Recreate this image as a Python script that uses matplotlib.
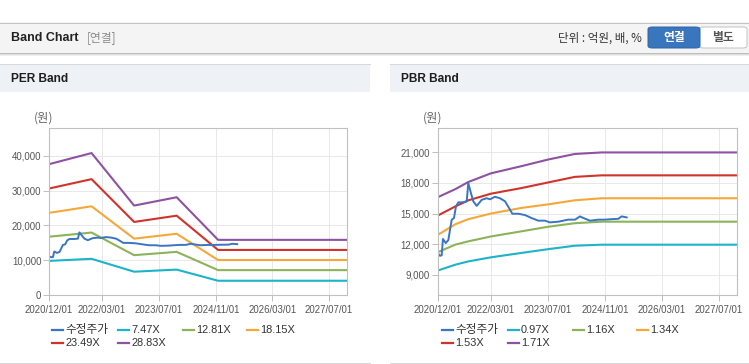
import matplotlib
matplotlib.use('Agg')
import matplotlib.pyplot as plt
import matplotlib.dates as mdates
import numpy as np
from matplotlib.patches import Rectangle, FancyBboxPatch
from matplotlib.lines import Line2D

W, H = 749, 364
plt.rcParams['font.family'] = ['Liberation Sans', 'Noto Sans CJK KR']

# ---------------- data ----------------
x_ticks = ['2020-12-01', '2022-03-01', '2023-07-01', '2024-11-01', '2026-03-01', '2027-07-01']
x_tick_labels = ['2020/12/01', '2022/03/01', '2023/07/01', '2024/11/01', '2026/03/01', '2027/07/01']
x_range = ['2020-12-01', '2027-12-01']

price_dates = ['2020-12-01', '2020-12-21', '2021-01-04', '2021-01-15', '2021-02-08', '2021-03-02',
               '2021-03-16', '2021-03-31', '2021-04-19', '2021-05-06', '2021-05-26', '2021-07-08',
               '2021-08-06', '2021-08-19', '2021-09-11', '2021-10-01', '2021-10-30', '2021-12-12',
               '2022-01-23', '2022-02-21', '2022-04-04', '2022-05-17', '2022-06-29', '2022-08-02',
               '2022-08-30', '2022-10-20', '2022-12-17', '2023-02-12', '2023-04-09', '2023-06-05',
               '2023-07-18', '2023-09-27', '2023-12-21', '2024-02-17', '2024-03-30', '2024-04-28',
               '2024-06-24', '2024-09-03', '2024-10-30', '2024-12-26', '2025-02-20', '2025-03-21',
               '2025-05-03']
price_values = [11100, 10850, 10900, 12500, 12100, 12400,
                13400, 14400, 14550, 15700, 16100, 16100,
                16200, 18000, 17000, 16200, 15750, 16350,
                16500, 16400, 16650, 16500, 16200, 15550,
                14980, 14980, 14850, 14550, 14300, 14300,
                14130, 14200, 14400, 14400, 14720, 14560,
                14300, 14400, 14400, 14450, 14480, 14720,
                14620]

per_dates = ['2020-12-01', '2021-12-01', '2022-12-01', '2023-12-01', '2024-11-20', '2027-12-01']
per_747 = [9800, 10400, 6700, 7300, 4100, 4100]
per_1281 = [16750, 17950, 11450, 12400, 7150, 7150]
per_1815 = [23600, 25500, 16200, 17600, 10050, 10050]
per_2349 = [30600, 33300, 21000, 22800, 12950, 12950]
per_2883 = [37600, 40800, 25700, 28100, 15850, 15850]
per_labels = ['수정주가', '7.47X', '12.81X', '18.15X', '23.49X', '28.83X']
per_yticks = [0, 10000, 20000, 30000, 40000]
per_ylim = [0, 48000]

pbr_dates = ['2020-12-01', '2021-05-01', '2021-08-20', '2022-03-01', '2022-11-15', '2023-07-01',
             '2024-02-15', '2024-10-01', '2027-12-01']
pbr_097 = [9400, 9980, 10300, 10700, 11130, 11500, 11840, 11940, 11940]
pbr_116 = [11200, 11950, 12270, 12750, 13250, 13700, 14050, 14200, 14200]
pbr_134 = [12900, 13950, 14450, 15000, 15550, 15900, 16300, 16500, 16500]
pbr_153 = [14800, 15700, 16300, 16950, 17500, 18050, 18600, 18750, 18750]
pbr_171 = [16600, 17400, 18100, 18950, 19650, 20300, 20850, 21000, 21000]
pbr_labels = ['수정주가', '0.97X', '1.16X', '1.34X', '1.53X', '1.71X']
pbr_yticks = [9000, 12000, 15000, 18000, 21000]
pbr_ylim = [7000, 23400]

colors = ['#3a75c4', '#1db3c9', '#8db35a', '#f5a83a', '#cf342c', '#8d52a1']

# ---------------- figure ----------------
fig = plt.figure(figsize=(W / 100, H / 100), dpi=100)
fig.patch.set_facecolor('white')


def fx(x):
    return x / W


def fy(y):
    return 1 - y / H


def rect(x0, y0, x1, y1, **kw):
    fig.add_artist(Rectangle((fx(x0), fy(y1)), (x1 - x0) / W, (y1 - y0) / H,
                             transform=fig.transFigure, **kw))


def hline(x0, x1, y, color, lw=0.72):
    fig.add_artist(Line2D([fx(x0), fx(x1)], [fy(y), fy(y)], transform=fig.transFigure,
                          color=color, lw=lw))


KR = ['Noto Sans CJK KR', 'Liberation Sans']

# top header bar
rect(0, 22, W, 53, facecolor='#f4f4f4', edgecolor='none')
hline(0, W, 22.5, '#c4c4c4')
hline(0, W, 52.5, '#bdbdbd')
hline(0, W, 53.5, '#dedede')
hline(0, W, 54.5, '#efefef')
fig.text(fx(11), fy(38), 'Band Chart', fontsize=9, fontweight='bold', color='#222222',
         ha='left', va='center', family=['Liberation Sans'])
fig.text(fx(87), fy(38), '[연결]', fontsize=8.5, color='#8a8a8a', ha='left', va='center', family=KR)
fig.text(fx(642), fy(38), '단위 : 억원, 배, %', fontsize=8.3, color='#333333', ha='right',
         va='center', family=KR)
fig.add_artist(FancyBboxPatch((fx(699), fy(48)), (747 - 699) / W, 21 / H,
                              boxstyle='round,pad=0,rounding_size=0.006',
                              transform=fig.transFigure, facecolor='white', edgecolor='#c4c4c4',
                              lw=0.72))
fig.add_artist(FancyBboxPatch((fx(648), fy(48)), (700 - 648) / W, 21 / H,
                              boxstyle='round,pad=0,rounding_size=0.006',
                              transform=fig.transFigure, facecolor='#3a76bd', edgecolor='#2f66a8',
                              lw=0.72))
fig.text(fx(674), fy(38), '연결', fontsize=8.5, fontweight='bold', color='white', ha='center',
         va='center', family=KR)
fig.text(fx(723), fy(38), '별도', fontsize=8.5, fontweight='bold', color='#555555', ha='center',
         va='center', family=KR)

# panel headers and frames
for (x0, x1, title) in [(0, 370, 'PER Band'), (390, W, 'PBR Band')]:
    rect(x0, 64, x1, 92, facecolor='#eef2f7', edgecolor='none')
    hline(x0, x1, 64.3, '#d5d8dc')
    hline(x0, x1, 362.5, '#d8d8d8')
    fig.text(fx(x0 + 11), fy(79), title, fontsize=8.6, fontweight='bold', color='#1e1e1e',
             ha='left', va='center', family=['Liberation Sans'])

xt = mdates.datestr2num(x_ticks)
xr = mdates.datestr2num(x_range)


def setup(ax, yticks, ylim):
    ax.set_xlim(xr[0], xr[1])
    ax.set_ylim(ylim)
    ax.set_xticks(xt)
    ax.set_xticklabels(x_tick_labels)
    ax.set_yticks(yticks)
    ax.set_yticklabels([f'{v:,}' for v in yticks])
    ax.grid(True, color='#e8e8e8', lw=0.72)
    ax.set_axisbelow(True)
    for s in ax.spines.values():
        s.set_color('#c0c0c0')
        s.set_linewidth(0.8)
    ax.tick_params(axis='both', length=4, width=0.72, color='#c0c0c0', labelsize=6.9,
                   labelcolor='#555555', pad=1.5)
    ax.tick_params(axis='x', pad=3)
    for lbl in ax.get_xticklabels() + ax.get_yticklabels():
        lbl.set_family(['Liberation Sans'])


def legend(x_cols, labels):
    rows = [(330, x_cols[0]), (330, x_cols[1]), (330, x_cols[2]), (330, x_cols[3]),
            (343.3, x_cols[0]), (343.3, x_cols[1])]
    for i, ((yy, xx), lab) in enumerate(zip(rows, labels)):
        fig.add_artist(Line2D([fx(xx), fx(xx + 11)], [fy(yy), fy(yy)], transform=fig.transFigure,
                              color=colors[i], lw=1.6))
        size = 8.4 if i == 0 else 7.9
        fig.text(fx(xx + 13), fy(yy), lab, fontsize=size, color='#333333', ha='left',
                 va='center', family=['Liberation Sans', 'Noto Sans CJK KR'])


pdx = mdates.datestr2num(price_dates)

# PER axes
ax1 = fig.add_axes([49 / W, (H - 295) / H, 298 / W, 167 / H])
setup(ax1, per_yticks, per_ylim)
pd1 = mdates.datestr2num(per_dates)
for i, band in enumerate([per_747, per_1281, per_1815, per_2349, per_2883]):
    ax1.plot(pd1, band, color=colors[i + 1], lw=1.5, solid_capstyle='butt')
ax1.plot(pdx, price_values, color=colors[0], lw=1.4)
fig.text(fx(44), fy(118), '(원)', fontsize=8.8, color='#666666', ha='center', va='center', family=KR)
legend([52, 118, 183, 247], per_labels)

# PBR axes
ax2 = fig.add_axes([437.7 / W, (H - 295) / H, 299.3 / W, 167 / H])
setup(ax2, pbr_yticks, pbr_ylim)
pd2 = mdates.datestr2num(pbr_dates)
for i, band in enumerate([pbr_097, pbr_116, pbr_134, pbr_153, pbr_171]):
    ax2.plot(pd2, band, color=colors[i + 1], lw=1.5, solid_capstyle='butt')
ax2.plot(pdx, price_values, color=colors[0], lw=1.4)
fig.text(fx(433), fy(118), '(원)', fontsize=8.8, color='#666666', ha='center', va='center', family=KR)
legend([442, 507.7, 572.7, 637], pbr_labels)

fig.savefig('out.png', dpi=100, facecolor='white')
